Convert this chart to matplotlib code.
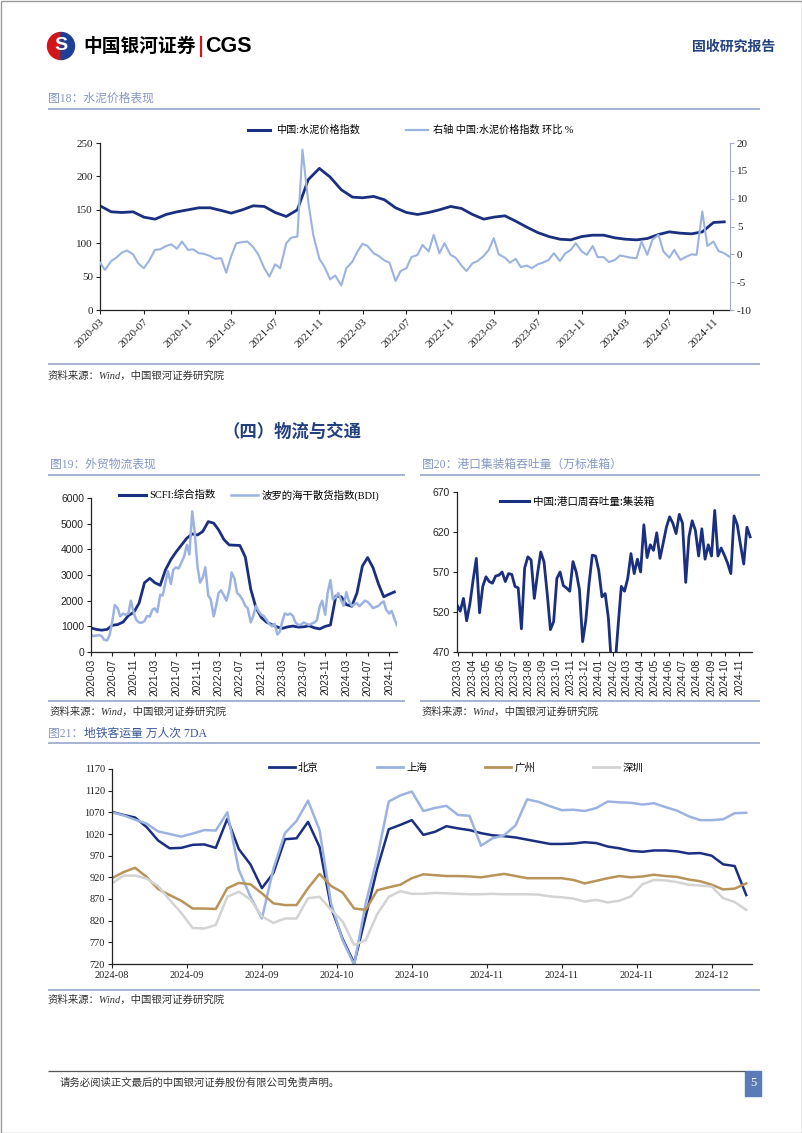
import pandas as pd
import matplotlib
matplotlib.use('Agg')
import matplotlib.pyplot as plt
from matplotlib.patches import Rectangle, Wedge
from matplotlib.lines import Line2D

CJK = 'Noto Sans CJK SC'
SERIF = ['Liberation Serif', CJK]
SANS = ['Liberation Sans', CJK]
plt.rcParams['font.family'] = SERIF
plt.rcParams['axes.unicode_minus'] = False

NAVY = '#1b2f80'
LIGHT = '#9cb3e1'
GOLD = '#b8945a'
SILVER = '#d3d3d3'
TITLE_C = '#8497c3'
RULE_C = '#8d9ec8'
HEAD_C = '#23407f'
TXT = '#222222'

# ---- fig 18: cement price index (monthly) and its MoM % (semi-monthly), from 2020-03
cement_idx = [156, 147, 146, 147, 139, 136, 143, 147, 150, 153,
              153, 149, 145, 150, 156, 155, 146, 140, 150, 195,
              212, 199, 180, 169, 168, 170, 165, 153, 146, 143,
              146, 150, 155, 152, 143, 136, 139, 141, 133, 124,
              116, 110, 106, 105, 110, 112, 112, 108, 106, 105,
              107, 113, 117, 115, 114, 117, 131, 132]
cement_mom = [-1.5, -2.8, -1.2, -0.6, 0.3, 0.7, 0.0, -1.6, -2.5, -1.2,
              0.8, 0.9, 1.5, 1.8, 1.0, 2.3, 0.8, 0.9, 0.2, 0.1,
              -0.3, -0.8, -0.7, -3.3, -0.3, 2.0, 2.2, 2.3, 1.3, 0.0,
              -2.5, -4.0, -1.8, -2.5, 2.0, 3.0, 3.2, 18.8, 9.5, 3.5,
              -0.8, -2.2, -4.5, -3.8, -5.6, -2.5, -1.3, 0.5, 1.9, 1.5,
              0.2, -0.3, -1.1, -1.5, -4.8,
              -3.0, -2.5, -0.5, -0.1, 1.7, 0.5, 3.5, 0.2, 2.0, -0.1,
              -0.6, -2.0, -3.0, -1.6, -1.2, -0.3, 0.8, 2.9, 0.0, -0.6,
              -1.5, -0.8, -2.3, -2.0, -2.5, -1.8, -1.5, -1.0, 0.2, -1.2,
              0.1, 0.8, 2.0, 0.5, -0.1, 1.5, -0.5, -0.5, -1.4, -1.0,
              -0.2, -0.4, -0.6, -0.7, 2.3, -0.1, 2.6, 3.5, 0.5, -0.6,
              0.8, -1.0, -0.5, 0.0, -0.1, 7.7, 1.5, 2.3, 0.6, 0.2, -0.4]
cement_labels = ['中国:水泥价格指数', '右轴 中国:水泥价格指数 环比 %']

# ---- fig 19: SCFI (monthly) and BDI (semi-monthly), from 2020-03
scfi = [935, 880, 850, 880, 1040, 1070, 1170, 1420, 1550, 1900,
        2700, 2870, 2700, 2600, 3200, 3600, 3900, 4170, 4440, 4600,
        4560, 4700, 5080, 5020, 4760, 4380, 4170, 4160, 4150, 3700,
        2450, 1720, 1340, 1160, 1060, 970, 920, 980, 1010, 970,
        980, 1020, 940, 900, 1000, 1050, 2180, 2150, 1845, 1780,
        2300, 3350, 3680, 3280, 2650, 2150, 2250, 2340]
bdi = [680, 620, 640, 660, 620, 480, 450, 650, 1200, 1830,
       1700, 1390, 1500, 1450, 1500, 2000, 1520, 1250, 1150, 1140,
       1200, 1400, 1380, 1650, 1700, 1550, 2230, 2200, 2700, 3150,
       2650, 3210, 3300, 3250, 3500, 3700, 4180, 3800, 5480, 4700,
       3300, 2700, 2900, 3300, 2200, 2050, 1390, 1800, 2300, 2400,
       2200, 2000, 2400, 3100, 2830, 2300, 2200, 2050, 1800, 1700,
       1150, 1400, 1800, 1600, 1450, 1400, 1250, 1100, 1000, 1100,
       680, 800, 1200, 1500, 1450, 1500, 1400, 1150, 1050, 1070,
       1150, 1100, 1060, 1100, 1150, 1250, 1780, 2000, 1450, 2300,
       2800, 2050, 2130, 2300, 2000, 1800, 2330, 2000, 1800, 1850,
       1900, 1780, 1900, 2000, 1950, 1850, 1710, 1750, 1800, 1900,
       1970, 1650, 1500, 1600, 1300, 1050]
ship_labels = ['SCFI:综合指数', '波罗的海干散货指数(BDI)']

# ---- fig 20: weekly port container throughput, from 2023-02-27
port = [529, 521, 537, 509, 530, 560, 587, 519, 552, 564,
        558, 556, 565, 566, 570, 558, 568, 567, 552, 550,
        499, 575, 589, 585, 537, 568, 595, 583, 543, 498,
        508, 562, 570, 553, 550, 546, 583, 570, 548, 483,
        510, 556, 591, 590, 572, 539, 543, 512, 450, 450,
        502, 552, 546, 562, 593, 568, 586, 570, 629, 588,
        604, 597, 619, 587, 606, 626, 639, 631, 618, 642,
        631, 557, 614, 634, 622, 590, 624, 586, 604, 590,
        647, 590, 600, 591, 581, 568, 640, 629, 604, 580,
        626, 614]
port_label = '中国:港口周吞吐量:集装箱'

# ---- fig 21: metro ridership 7DA, every 2 days from 2024-08-28
beijing = [1071, 1064, 1058, 1036, 1005, 987, 988, 995, 996, 988,
           1055, 985, 950, 895, 930, 1008, 1010, 1048, 990, 850,
           778, 722, 830, 940, 1031, 1041, 1052, 1018, 1025, 1038,
           1033, 1029, 1022, 1017, 1015, 1012, 1007, 1002, 997, 997,
           998, 1001, 999, 991, 987, 981, 979, 982, 982, 980,
           975, 976, 970, 950, 946, 879]
shanghai = [1070, 1063, 1053, 1044, 1026, 1020, 1014, 1021, 1029, 1028,
            1070, 937, 876, 825, 940, 1022, 1050, 1097, 1029, 860,
            775, 718, 860, 965, 1095, 1109, 1118, 1073, 1080, 1085,
            1064, 1062, 993, 1010, 1017, 1040, 1100, 1094, 1084, 1075,
            1076, 1073, 1080, 1095, 1093, 1092, 1088, 1091, 1082, 1074,
            1061, 1052, 1052, 1054, 1068, 1069]
guangzhou = [918, 932, 942, 921, 893, 879, 866, 848, 848, 847,
             895, 907, 904, 883, 860, 856, 856, 895, 928, 900,
             885, 848, 845, 890, 897, 903, 918, 927, 925, 923,
             923, 922, 920, 924, 928, 923, 918, 918, 918, 918,
             914, 906, 912, 918, 923, 920, 922, 926, 923, 921,
             915, 911, 903, 892, 894, 906]
shenzhen = [906, 924, 924, 917, 900, 868, 838, 803, 802, 810,
            875, 887, 869, 830, 815, 825, 825, 872, 875, 845,
            818, 764, 775, 835, 875, 888, 882, 882, 884, 883,
            882, 881, 881, 882, 881, 881, 881, 880, 876, 874,
            871, 864, 868, 862, 866, 876, 904, 914, 913, 909,
            903, 901, 899, 872, 863, 845]
cities = ['北京', '上海', '广州', '深圳']

W, H = 802, 1133
fig = plt.figure(figsize=(W / 100, H / 100), dpi=100)

# page layer in pixel coordinates
page = fig.add_axes([0, 0, 1, 1], zorder=0)
page.set_xlim(0, W)
page.set_ylim(H, 0)
page.axis('off')


def box(l, t, r, b):
    return [l / W, 1 - b / H, (r - l) / W, (b - t) / H]


def rule(x0, x1, y, c=RULE_C, lw=1.1):
    page.plot([x0, x1], [y, y], color=c, lw=lw, solid_capstyle='butt')


def source(x, y):
    page.text(x, y, '资料来源：Wind，中国银河证券研究院', fontsize=7.5,
              style='italic', color='#333333', va='center')


def style_axes(ax, fam, size=7.5):
    ax.patch.set_alpha(0)
    for s in ['top', 'right']:
        ax.spines[s].set_visible(False)
    for s in ['left', 'bottom']:
        ax.spines[s].set_color('#222222')
        ax.spines[s].set_linewidth(0.9)
    ax.tick_params(length=3, width=0.8, color='#222222', labelsize=size,
                   labelcolor=TXT, pad=2)
    for lab in ax.get_xticklabels() + ax.get_yticklabels():
        lab.set_family(fam)


# ---- header
page.add_patch(Rectangle((0.5, 0.5), W - 1, H - 1, fill=False, ec='#9a9a9a', lw=1))
page.add_patch(Wedge((61, 46), 13.5, 90, 270, color='#d3141b'))
page.add_patch(Wedge((61, 46), 13.5, -90, 90, color='#1d3f95'))
page.text(61, 46, 'S', color='white', fontsize=14, fontweight='bold',
          ha='center', va='center', family='Liberation Sans')
page.text(83, 46, '中国银河证券', fontsize=13.5, fontweight='bold', color='black',
          va='center', family=CJK)
page.plot([201, 201], [37, 56], color='#d3141b', lw=1.6)
page.text(205, 46, 'CGS', fontsize=15.5, fontweight='bold', color='black',
          va='center', family='Liberation Sans')
page.text(775, 47, '固收研究报告', fontsize=10, fontweight='bold', color=HEAD_C,
          va='center', ha='right', family=CJK)

# ---- fig 18
page.text(48, 99, '图18：水泥价格表现', fontsize=8.5, color=TITLE_C, va='center')
rule(48, 760, 109)
rule(48, 760, 364)
source(48, 376)

ax = fig.add_axes(box(100, 143, 730, 310))
cement_dates = pd.date_range('2020-03-01', periods=len(cement_idx), freq='MS')
mom_dates = pd.date_range('2020-03-01', periods=len(cement_mom), freq='SMS')
ax.plot(cement_dates, cement_idx, color=NAVY, lw=2.0)
ax.set_ylim(0, 250)
ax.set_yticks(range(0, 251, 50))
ax.set_xlim(pd.Timestamp('2020-03-01'), pd.Timestamp('2024-12-17'))
ticks = pd.date_range('2020-03-01', '2024-11-01', freq='4MS')
ax.set_xticks(ticks)
ax.set_xticklabels([t.strftime('%Y-%m') for t in ticks], rotation=45,
                   ha='right', rotation_mode='anchor')
style_axes(ax, SERIF, size=8)
ax2 = ax.twinx()
ax2.plot(mom_dates, cement_mom, color=LIGHT, lw=1.5)
ax2.set_ylim(-10, 20)
ax2.set_yticks(range(-10, 21, 5))
for s in ['top', 'left', 'bottom']:
    ax2.spines[s].set_visible(False)
ax2.spines['right'].set_color('#a3abc9')
ax2.tick_params(length=3, width=0.8, color='#a3abc9', labelsize=8,
                labelcolor=TXT, pad=2)
fig.legend([Line2D([], [], color=NAVY, lw=2.2), Line2D([], [], color=LIGHT, lw=1.6)],
           cement_labels, loc='center', bbox_to_anchor=(411 / W, 1 - 130 / H),
           ncol=2, frameon=False, fontsize=7.3, handlelength=2.2,
           handletextpad=0.5, columnspacing=4.6)

# ---- section heading
page.text(222, 432, '（四）物流与交通', fontsize=12.5, fontweight='bold',
          color=HEAD_C, va='center', family=CJK)

# ---- fig 19
page.text(50, 465, '图19：外贸物流表现', fontsize=8.5, color=TITLE_C, va='center')
rule(48, 405, 475)
rule(48, 405, 701)
source(50, 712)

ax = fig.add_axes(box(91, 498, 397, 652))
ship_m = pd.date_range('2020-03-01', periods=len(scfi), freq='MS')
ship_s = pd.date_range('2020-03-01', periods=len(bdi), freq='SMS')
ax.plot(ship_m, scfi, color=NAVY, lw=2.0)
ax.plot(ship_s, bdi, color=LIGHT, lw=1.8)
ax.set_ylim(0, 6000)
ax.set_yticks(range(0, 6001, 1000))
ax.set_xlim(pd.Timestamp('2020-03-01'), pd.Timestamp('2024-12-16'))
ax.set_xticks(ticks)
ax.set_xticklabels([t.strftime('%Y-%m') for t in ticks], rotation=90)
style_axes(ax, SANS)
for lab in ax.get_xticklabels():
    lab.set_fontsize(7.3)
ax.legend([Line2D([], [], color=NAVY, lw=2.2), Line2D([], [], color=LIGHT, lw=1.8)],
          ship_labels, loc='center', bbox_to_anchor=(249 / W, 1 - 495 / H),
          bbox_transform=fig.transFigure, ncol=2, frameon=False, fontsize=7.5,
          handlelength=2.6, handletextpad=0.3, columnspacing=1.5)

# ---- fig 20
page.text(422, 465, '图20：港口集装箱吞吐量（万标准箱）', fontsize=8.5, color=TITLE_C,
          va='center')
rule(420, 760, 475)
rule(420, 760, 701)
source(422, 712)

ax = fig.add_axes(box(457, 492, 752, 652))
port_dates = pd.date_range('2023-02-27', periods=len(port), freq='7D')
ax.plot(port_dates, port, color=NAVY, lw=2.0)
ax.set_ylim(470, 670)
ax.set_yticks(range(470, 671, 50))
ax.set_xlim(pd.Timestamp('2023-02-27'), pd.Timestamp('2024-11-29'))
pticks = pd.date_range('2023-03-01', '2024-11-01', freq='MS')
ax.set_xticks(pticks)
ax.set_xticklabels([t.strftime('%Y-%m') for t in pticks], rotation=90)
style_axes(ax, SANS)
for lab in ax.get_xticklabels():
    lab.set_fontsize(7.3)
ax.legend([Line2D([], [], color=NAVY, lw=2.2)], [port_label], loc='center',
          bbox_to_anchor=(577 / W, 1 - 502 / H), bbox_transform=fig.transFigure,
          frameon=False, handlelength=2.7, handletextpad=0.4,
          prop={'family': CJK, 'size': 7.6})

# ---- fig 21
page.text(48, 734, '图21：', fontsize=8.5, color=TITLE_C, va='center')
page.text(84, 734, '地铁客运量 万人次 7DA', fontsize=8.5, color='#3a5898', va='center')
rule(48, 760, 743)
rule(48, 760, 990)
source(48, 1000)

ax = fig.add_axes(box(112, 769, 752, 964))
metro_dates = pd.date_range('2024-08-28', periods=len(beijing), freq='2D')
for vals, c in zip([beijing, shanghai, guangzhou, shenzhen], [NAVY, LIGHT, GOLD, SILVER]):
    ax.plot(metro_dates, vals, color=c, lw=1.8)
ax.set_ylim(720, 1170)
ax.set_yticks(range(720, 1171, 50))
ax.set_xlim(pd.Timestamp('2024-08-28'), pd.Timestamp('2024-12-17'))
mticks = pd.date_range('2024-08-28', periods=9, freq='13D')
ax.set_xticks(mticks)
ax.set_xticklabels([t.strftime('%Y-%m') for t in mticks])
style_axes(ax, SERIF)
ax.legend([Line2D([], [], color=c, lw=2.0) for c in [NAVY, LIGHT, GOLD, SILVER]],
          cities, loc='center', bbox_to_anchor=(456 / W, 1 - 768 / H),
          bbox_transform=fig.transFigure, ncol=4, frameon=False, fontsize=7.5,
          handlelength=2.5, handletextpad=0.3, columnspacing=5.6)

# ---- footer
rule(48, 745, 1071, c='#555555', lw=0.9)
page.text(60, 1083, '请务必阅读正文最后的中国银河证券股份有限公司免责声明。', fontsize=7.5,
          color='#333333', va='center', family=CJK)
page.add_patch(Rectangle((745, 1071), 16, 25, color='#5b7bb8'))
page.text(753, 1083.5, '5', color='white', fontsize=9, ha='center', va='center')

fig.savefig('out.png', dpi=100)
